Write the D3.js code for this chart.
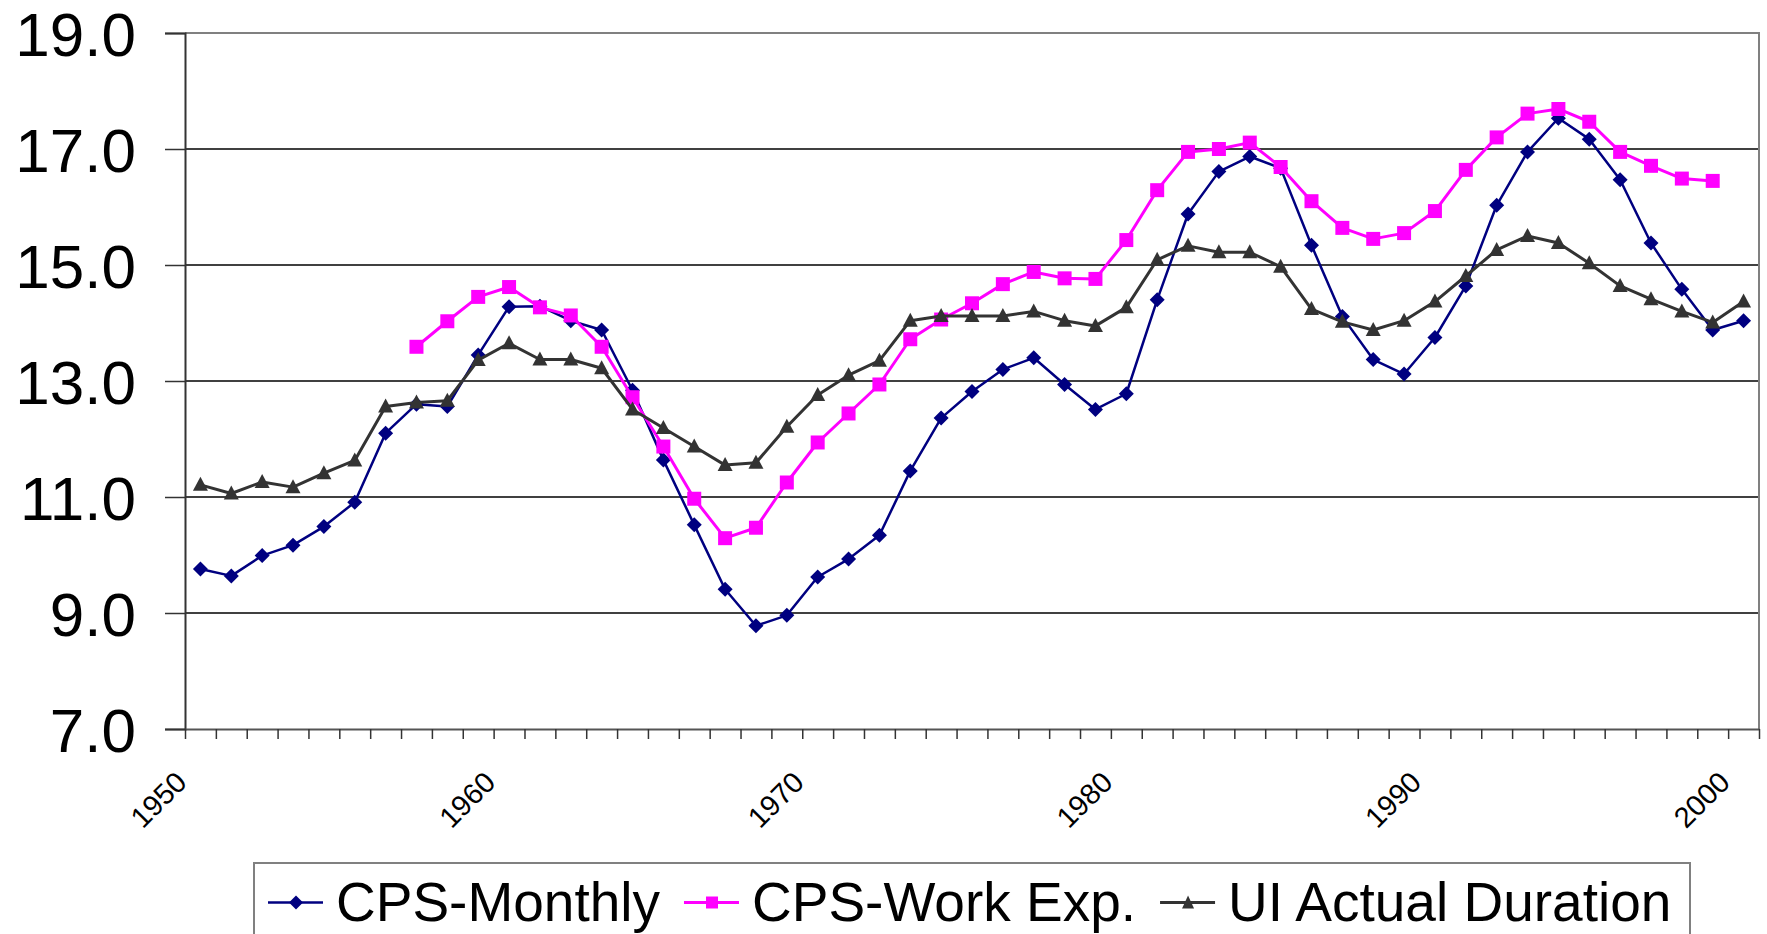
<!DOCTYPE html>
<html>
<head>
<meta charset="utf-8">
<script src="https://cdn.jsdelivr.net/npm/d3@7"></script>
<style>
  body { margin: 0; background: #fff; }
  svg { display: block; font-family: "Liberation Sans", Arial, sans-serif; }
</style>
</head>
<body>
<svg id="chart"></svg>
<script>
const years = d3.range(1950, 2001);

const cpsMonthly = [
  9.76, 9.64, 9.99, 10.17, 10.49, 10.91, 12.10, 12.60, 12.56, 13.45,
  14.28, 14.29, 14.04, 13.88, 12.84, 11.64, 10.52, 9.41, 8.78, 8.96,
  9.62, 9.93, 10.34, 11.45, 12.36, 12.82, 13.20, 13.40, 12.94, 12.51,
  12.78, 14.40, 15.88, 16.61, 16.87, 16.67, 15.34, 14.11, 13.37, 13.12,
  13.75, 14.64, 16.03, 16.95, 17.53, 17.17, 16.47, 15.38, 14.58, 13.88,
  14.04
];

// work experience series starts in 1957 and ends in 1999
const workExpStart = 1957;
const cpsWorkExp = [
  13.59, 14.03, 14.45,
  14.62, 14.27, 14.13, 13.59, 12.72, 11.87, 10.97, 10.29, 10.47, 11.25,
  11.94, 12.44, 12.94, 13.72, 14.06, 14.34, 14.67, 14.88, 14.77, 14.76,
  15.43, 16.29, 16.95, 17.00, 17.11, 16.69, 16.10, 15.64, 15.45, 15.55,
  15.93, 16.64, 17.20, 17.61, 17.69, 17.47, 16.95, 16.71, 16.49, 16.45
];

const uiDuration = [
  11.21, 11.06, 11.26, 11.17, 11.41, 11.63, 12.56, 12.63, 12.66, 13.36,
  13.65, 13.37, 13.37, 13.22, 12.51, 12.19, 11.87, 11.55, 11.59, 12.21,
  12.76, 13.10, 13.35, 14.04, 14.12, 14.12, 14.12, 14.20, 14.04, 13.95,
  14.27, 15.09, 15.33, 15.22, 15.22, 14.97, 14.24, 14.02, 13.88, 14.04,
  14.37, 14.81, 15.26, 15.50, 15.38, 15.03, 14.64, 14.41, 14.20, 14.01,
  14.37
];

const yTicks = [7, 9, 11, 13, 15, 17, 19];
const xLabels = [1950, 1960, 1970, 1980, 1990, 2000];

const series = [
  { name: "CPS-Monthly", color: "#000080", width: 2.5, shape: "diamond",
    values: cpsMonthly.map((v, i) => ({ year: years[i], v })) },
  { name: "CPS-Work Exp.", color: "#ff00ff", width: 3, shape: "square",
    values: cpsWorkExp.map((v, i) => ({ year: workExpStart + i, v })) },
  { name: "UI Actual Duration", color: "#333333", width: 3, shape: "triangle",
    values: uiDuration.map((v, i) => ({ year: years[i], v })) }
];

const width = 1767, height = 934;
const plotLeft = 185, plotRight = 1759, plotTop = 33, plotBottom = 729;

const svg = d3.select("#chart").attr("width", width).attr("height", height);

const x = d3.scaleBand().domain(years).range([plotLeft, plotRight]).padding(0);
const y = d3.scaleLinear().domain([7, 19]).range([plotBottom, plotTop]);
const cx = yr => x(yr) + x.bandwidth() / 2;

const markerPath = {
  diamond: "M0,-7.5L7.5,0L0,7.5L-7.5,0Z",
  square: "M-7,-7H7V7H-7Z",
  triangle: "M0,-8L7.5,6L-7.5,6Z"
};
const legendMarker = {
  diamond: "M0,-7L7,0L0,7L-7,0Z",
  square: "M-6,-6H6V6H-6Z",
  triangle: "M0,-7L6,6L-6,6Z"
};

// gridlines
svg.append("g")
  .selectAll("line")
  .data(yTicks.filter(t => t > 7 && t < 19))
  .enter()
  .append("line")
  .attr("x1", plotLeft).attr("x2", plotRight)
  .attr("y1", d => y(d)).attr("y2", d => y(d))
  .attr("stroke", "#000").attr("stroke-width", 1.3);

// plot border top and right
svg.append("path")
  .attr("d", `M${plotLeft},${y(19)}H${plotRight}V${plotBottom}`)
  .attr("fill", "none").attr("stroke", "#808080").attr("stroke-width", 2);

// y axis
const yAxis = d3.axisLeft(y).tickValues(yTicks).tickFormat(d3.format(".1f"))
  .tickSize(20).tickPadding(29);
const gy = svg.append("g").attr("transform", `translate(${plotLeft},0)`).call(yAxis);
gy.select(".domain").attr("stroke", "#333").attr("stroke-width", 2);
gy.selectAll(".tick line").attr("stroke", "#333").attr("stroke-width", 1.5);
gy.selectAll(".tick text").attr("font-size", 62).attr("fill", "#000")
  .attr("dy", "0.36em")
  .attr("font-family", "Liberation Sans, Arial, sans-serif");

// x axis: tick marks between categories
const xb = d3.scaleLinear().domain([0, years.length]).range([plotLeft, plotRight]);
const xAxis = d3.axisBottom(xb).tickValues(d3.range(0, years.length + 1))
  .tickFormat("").tickSize(10).tickSizeOuter(0);
const gx = svg.append("g").attr("transform", `translate(0,${plotBottom})`).call(xAxis);
gx.select(".domain").attr("stroke", "#555").attr("stroke-width", 2);
gx.selectAll(".tick line").attr("stroke", "#333").attr("stroke-width", 1.5);

// x labels, rotated
const xLab = d3.axisBottom(x).tickValues(xLabels).tickSize(0);
const gl = svg.append("g").attr("transform", `translate(0,${plotBottom})`).call(xLab);
gl.select(".domain").remove();
gl.selectAll(".tick text")
  .attr("font-size", 29).attr("fill", "#000")
  .attr("font-family", "Liberation Sans, Arial, sans-serif")
  .attr("text-anchor", "end")
  .attr("y", 0).attr("dy", 0)
  .attr("transform", "translate(-12,55) rotate(-45)");

// series
const line = d3.line().x(d => cx(d.year)).y(d => y(d.v));
series.forEach(s => {
  const g = svg.append("g");
  g.append("path").datum(s.values)
    .attr("d", line).attr("fill", "none")
    .attr("stroke", s.color).attr("stroke-width", s.width)
    .attr("stroke-linejoin", "round");
  g.selectAll("path.mk").data(s.values).enter().append("path")
    .attr("class", "mk")
    .attr("d", markerPath[s.shape])
    .attr("transform", d => `translate(${cx(d.year)},${y(d.v)})`)
    .attr("fill", s.color);
});

// legend
const legend = svg.append("g");
legend.append("rect")
  .attr("x", 254).attr("y", 863).attr("width", 1436).attr("height", 120)
  .attr("fill", "#fff").attr("stroke", "#808080").attr("stroke-width", 2);

let lx = 268;
series.forEach(s => {
  const item = legend.append("g");
  item.append("line").attr("x1", lx).attr("x2", lx + 55)
    .attr("y1", 902.5).attr("y2", 902.5)
    .attr("stroke", s.color).attr("stroke-width", s.width);
  item.append("path").attr("d", legendMarker[s.shape])
    .attr("transform", `translate(${lx + 28},902.5)`).attr("fill", s.color);
  const t = item.append("text").attr("x", lx + 68).attr("y", 921)
    .attr("font-size", 55).attr("fill", "#000").text(s.name);
  lx = lx + 68 + t.node().getComputedTextLength() + 24;
});
</script>
</body>
</html>
